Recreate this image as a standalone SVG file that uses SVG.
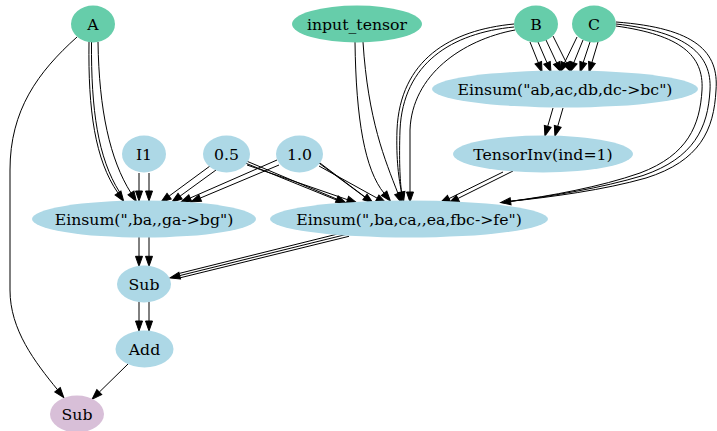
<svg xmlns="http://www.w3.org/2000/svg" width="717" height="431" viewBox="0 0 717 431">
  <style>
    .lbl { font-family: "DejaVu Serif", "Liberation Serif", serif; font-size: 15.7px; fill: #000; text-anchor: middle; }
    .src { fill: #66cdaa; }
    .op { fill: #add8e6; }
    .out { fill: #d8bfd8; }
    .edge { fill: none; stroke: #000; stroke-width: 1; marker-end: url(#arrow); }
    .wire { fill: none; stroke: #000; stroke-width: 1; }
  </style>
  <defs>
    <marker id="arrow" markerUnits="userSpaceOnUse" markerWidth="10" markerHeight="7" refX="0" refY="3.5" orient="auto" overflow="visible">
      <path d="M0,0 L10,3.5 L0,7 Z" fill="#000" stroke="#000" stroke-width="1"/>
    </marker>
  </defs>
  <rect width="717" height="431" fill="#fff"/>

  <g id="connectors">
    <!-- A -> Sub (result) -->
    <path class="edge" d="M77,37 C38,72 10,110 10,170 L10,290 C10,330 35,362 57.5,389.7"/>
    <!-- A -> Einsum(",ba,,ga->bg") -->
    <path class="edge" d="M89,42 C88,110 95,160 118,193"/>
    <path class="wire" d="M91.5,42 C91,110 98,158 119.5,192"/>
    <path class="edge" d="M98,42 C99,110 110,160 131,193"/>
    <!-- I1 -> Einsum left -->
    <path class="edge" d="M139,173 L139,191"/>
    <path class="edge" d="M149,173 L149,191"/>
    <!-- 0.5 -> Einsum left -->
    <path class="edge" d="M210,166 L169.1,196.1"/>
    <path class="edge" d="M216,170 L180.1,196.1"/>
    <!-- 1.0 -> Einsum left -->
    <path class="edge" d="M277,160 L190.2,198"/>
    <path class="edge" d="M279,165 L200.2,198.1"/>
    <!-- 0.5 -> Einsum right -->
    <path class="edge" d="M244,160 L336.8,199.1"/>
    <path class="wire" d="M244,162.5 L336.5,200"/>
    <path class="edge" d="M247,165 L347.5,199.7"/>
    <!-- 1.0 -> Einsum right -->
    <path class="edge" d="M316,160 L365,197"/>
    <path class="wire" d="M317.5,162 L366,198"/>
    <path class="edge" d="M319,166 L377.2,198.2"/>
    <!-- input_tensor -> Einsum right -->
    <path class="edge" d="M355,42 C356,120 365,170 384.1,193.3"/>
    <path class="edge" d="M363,42 C368,120 385,160 398,193.5"/>
    <!-- B -> Einsum right -->
    <path class="edge" d="M514,24 C450,30 400,60 397,130 C396,160 399,180 401.5,192"/>
    <path class="wire" d="M514,27 C452,33 403,63 400,130 C399,160 400,180 401.5,192"/>
    <path class="edge" d="M515,30 C462,40 412,75 410,130 L410,192"/>
    <!-- B -> Einsum("ab,ac,db,dc->bc") -->
    <path class="edge" d="M530,42 L538.3,62.7"/>
    <path class="edge" d="M538,42 L547,62.8"/>
    <path class="edge" d="M546,40 L556.7,62.9"/>
    <path class="edge" d="M553,36 L566.5,63"/>
    <!-- C -> Einsum("ab,ac,db,dc->bc") -->
    <path class="edge" d="M577,37 L564.4,63"/>
    <path class="edge" d="M583,40 L573.8,62.7"/>
    <path class="edge" d="M590,42 L583.2,62.5"/>
    <path class="edge" d="M598,42 L591.9,62.4"/>
    <!-- C -> Einsum right -->
    <path class="edge" d="M616,26 C680,35 704,55 702,90 C700,125 688,155 640,173 C600,187 550,196 510.6,201.3"/>
    <path class="wire" d="M616,24 C688,32 712,55 710,90 C708,128 694,158 643,175.5 C602,188 550,196.5 510.6,201.3"/>
    <path class="wire" d="M616,22 C696,28 719,52 716,90 C714,130 700,161 646,178 C604,190 551,197 510.6,201.3"/>
    <!-- Einsum top -> TensorInv -->
    <path class="edge" d="M553,108 L547.7,126.4"/>
    <path class="edge" d="M563,108 L557.7,126.4"/>
    <!-- TensorInv -> Einsum right -->
    <path class="edge" d="M503,172 L449,198.6"/>
    <path class="edge" d="M513,171 L457.9,198.5"/>
    <!-- Einsum right -> Sub -->
    <path class="wire" d="M346.5,231.8 L179.3,273.4"/>
    <path class="edge" d="M348,234 L179.7,275.6"/>
    <path class="wire" d="M349,236.3 L180.1,277.8"/>
    <!-- Einsum left -> Sub -->
    <path class="edge" d="M139,237 L139,256.3"/>
    <path class="edge" d="M149,237 L149,256.3"/>
    <!-- Sub -> Add -->
    <path class="edge" d="M139,302 L139,321"/>
    <path class="edge" d="M149,302 L149,321"/>
    <!-- Add -> Sub (result) -->
    <path class="edge" d="M128,364 L99.3,392.1"/>
  </g>

  <g id="A"><ellipse class="src" cx="93" cy="24" rx="22" ry="18.5"/><text class="lbl" x="93" y="29.5">A</text></g>
  <g id="input_tensor"><ellipse class="src" cx="357" cy="24" rx="65" ry="18.5"/><text class="lbl" x="357" y="29.5">input_tensor</text></g>
  <g id="B"><ellipse class="src" cx="536" cy="24" rx="22" ry="18.5"/><text class="lbl" x="536" y="29.5">B</text></g>
  <g id="C"><ellipse class="src" cx="594" cy="24" rx="22" ry="18.5"/><text class="lbl" x="594" y="29.5">C</text></g>
  <g id="einsum_bc"><ellipse class="op" cx="565" cy="89" rx="133" ry="18.5"/><text class="lbl" x="565" y="94.5">Einsum("ab,ac,db,dc-&gt;bc")</text></g>
  <g id="tensorinv"><ellipse class="op" cx="543" cy="154" rx="90" ry="18.5"/><text class="lbl" x="543" y="159.5">TensorInv(ind=1)</text></g>
  <g id="I1"><ellipse class="op" cx="144" cy="154" rx="22" ry="18.5"/><text class="lbl" x="144" y="159.5">I1</text></g>
  <g id="c05"><ellipse class="op" cx="226.5" cy="154" rx="23.5" ry="18.5"/><text class="lbl" x="226.5" y="159.5">0.5</text></g>
  <g id="c10"><ellipse class="op" cx="299.5" cy="154" rx="23.5" ry="18.5"/><text class="lbl" x="299.5" y="159.5">1.0</text></g>
  <g id="einsum_bg"><ellipse class="op" cx="144" cy="219" rx="112" ry="18.5"/><text class="lbl" x="144" y="224.5">Einsum(",ba,,ga-&gt;bg")</text></g>
  <g id="einsum_fe"><ellipse class="op" cx="409" cy="219" rx="139" ry="18.5"/><text class="lbl" x="409" y="224.5">Einsum(",ba,ca,,ea,fbc-&gt;fe")</text></g>
  <g id="sub"><ellipse class="op" cx="144" cy="284" rx="27" ry="18.5"/><text class="lbl" x="144" y="289.5">Sub</text></g>
  <g id="add"><ellipse class="op" cx="144.5" cy="349" rx="29" ry="18.5"/><text class="lbl" x="144.5" y="354.5">Add</text></g>
  <g id="sub_out"><ellipse class="out" cx="77" cy="414" rx="27" ry="18.5"/><text class="lbl" x="77" y="419.5">Sub</text></g>
</svg>
